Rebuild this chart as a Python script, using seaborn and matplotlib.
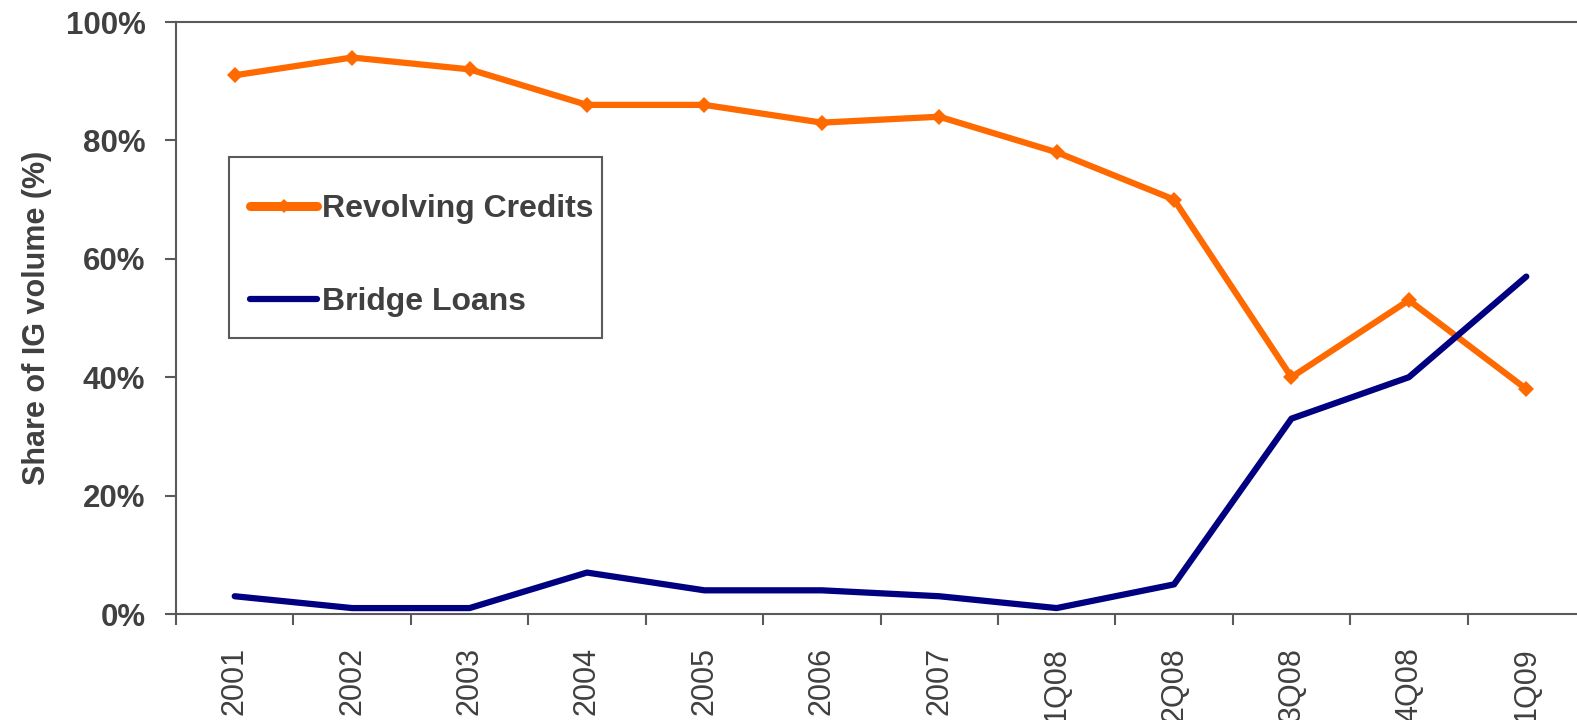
import matplotlib
matplotlib.use("Agg")
import matplotlib.pyplot as plt
import seaborn as sns
import numpy as np
import pandas as pd
from matplotlib.patches import Rectangle
from matplotlib.ticker import FixedLocator, PercentFormatter

# Share of investment-grade loan volume by facility type
periods = ["2001", "2002", "2003", "2004", "2005", "2006", "2007",
           "1Q08", "2Q08", "3Q08", "4Q08", "1Q09"]
revolving_credits = [91, 94, 92, 86, 86, 83, 84, 78, 70, 40, 53, 38]
bridge_loans = [3, 1, 1, 7, 4, 4, 3, 1, 5, 33, 40, 57]

sns.set_theme(style="white")
plt.rcParams["font.family"] = ["Liberation Sans", "DejaVu Sans"]

text_color = "#404040"
spine_color = "#5a5a5a"
orange = "#FF6A00"
navy = "#000080"

pos = np.arange(len(periods))
df = pd.DataFrame({"pos": pos, "rc": revolving_credits, "bl": bridge_loans})

fig = plt.figure(figsize=(15.77, 7.2), dpi=100)
ax = fig.add_axes([176 / 1577, 1 - 614 / 720, (1585 - 176) / 1577, (614 - 22) / 720])

sns.lineplot(data=df, x="pos", y="rc", ax=ax, color=orange, linewidth=4.5,
             marker="D", markersize=8, markeredgewidth=0,
             label="Revolving Credits")
sns.lineplot(data=df, x="pos", y="bl", ax=ax, color=navy, linewidth=4.5,
             label="Bridge Loans")

ax.set_xlim(-0.5, len(periods) - 0.5)
ax.set_ylim(0, 100)

# category labels at centres, tick marks between categories
ax.xaxis.set_major_locator(FixedLocator(np.arange(-0.5, len(periods) + 0.5, 1)))
ax.xaxis.set_minor_locator(FixedLocator(pos))
ax.set_xticklabels([])
ax.set_xticklabels(periods, minor=True, rotation=90, fontsize=22,
                   color=text_color)
ax.tick_params(axis="x", which="major", direction="out", length=8,
               width=1.5, color=spine_color, bottom=True)
ax.tick_params(axis="x", which="minor", length=0, pad=24)

ax.set_yticks(np.arange(0, 101, 20))
ax.yaxis.set_major_formatter(PercentFormatter(decimals=0))
ax.tick_params(axis="y", direction="out", length=8, width=1.5,
               color=spine_color, left=True, labelsize=22.5,
               labelcolor=text_color, pad=14)
for lab in ax.get_yticklabels():
    lab.set_fontweight("bold")

ax.set_xlabel("")
ax.set_ylabel("Share of IG volume (%)", fontsize=22, fontweight="bold",
              color=text_color, labelpad=10)

for side in ["left", "bottom", "top", "right"]:
    ax.spines[side].set_visible(True)
    ax.spines[side].set_color(spine_color)
    ax.spines[side].set_linewidth(1.5)

# legend entries without their own frame, boxed by a plain rectangle
leg = ax.legend(loc="upper left", bbox_to_anchor=(0.0525, 0.7095),
                frameon=False, fontsize=23,
                handlelength=2.1, handletextpad=0.15, labelspacing=1.97,
                borderpad=0, borderaxespad=0)
for t in leg.get_texts():
    t.set_fontweight("bold")
    t.set_color(text_color)
handles = leg.legend_handles
handles[0].set_linewidth(6.5)
handles[0].set_markersize(7)
handles[1].set_linewidth(4.5)

ax.add_patch(Rectangle((0.0376, 0.4662), 0.2647, 0.3057,
                       transform=ax.transAxes, fill=True, facecolor="white",
                       edgecolor=spine_color, linewidth=1.5, zorder=4))
leg.set_zorder(5)

fig.savefig("out.png", dpi=100)
